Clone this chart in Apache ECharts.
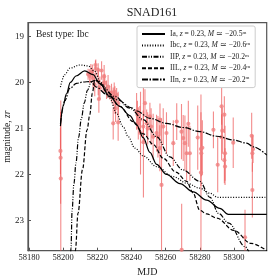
<!DOCTYPE html>
<html><head><meta charset="utf-8">
<script src="https://cdn.jsdelivr.net/npm/echarts@6/dist/echarts.min.js"></script>
<style>html,body{margin:0;padding:0;background:#fff}#c{width:280px;height:280px}</style>
</head><body><div id="c"></div>
<script>
// ---- data ----
const xTicks = [58180, 58200, 58220, 58240, 58260, 58280, 58300];
const yTicks = [19, 20, 21, 22, 23];

const iaMjd  = [58198.4,58199.9,58201.9,58204.2,58207.5,58212.6,58217.5,58221.4,58227.3,58233.2,58239.0,58243.0,58246.9,58250.8,58254.7,58260.5,58268.4,58276.2,58284.0,58291.8,58296.7,58319.2];
const iaMag  = [20.95,20.52,20.25,20.0,19.86,19.75,19.83,20.02,20.31,20.52,20.72,20.92,21.2,21.52,21.78,22.0,22.2,22.38,22.56,22.74,22.87,22.87];

const ibcMjd = [58198.4,58200.9,58203.9,58209.7,58214.6,58218.5,58222.0,58227.3,58231.2,58235.1,58238.1,58242.0,58247.0,58254.7,58264.5,58272.3,58280.0,58286.0,58290.5,58319.2];
const ibcMag = [20.1,19.83,19.69,19.62,19.64,19.76,20.0,20.34,20.67,20.96,21.18,21.43,21.6,21.83,22.05,22.19,22.3,22.41,22.5,22.5];

const iipMjd = [58204.0,58204.6,58205.2,58206.3,58207.5,58209.0,58210.7,58212.3,58214.2,58216.5,58219.0,58222.0,58230.0,58239.0,58247.0,58254.7,58262.5,58270.0,58280.0,58286.0,58291.0,58297.0,58306.5,58310.0];
const iipMag = [24.2,23.6,22.8,22.2,21.75,21.2,20.78,20.45,20.17,19.98,19.95,20.05,20.3,20.56,20.81,21.18,21.62,21.9,22.15,22.5,22.85,23.06,23.57,23.8];

const iilMjd = [58206.8,58207.2,58208.7,58211.3,58214.0,58215.6,58217.1,58218.5,58221.0,58225.4,58233.2,58241.0,58247.0,58252.8,58258.6,58266.0,58272.3,58276.0,58280.0,58284.0,58290.0,58300.0,58310.0,58319.2];
const iilMag = [24.2,23.64,22.84,21.9,21.03,20.7,20.23,19.95,19.98,20.2,20.52,20.85,21.12,21.35,21.65,21.95,22.15,22.4,22.78,22.86,22.95,23.22,23.5,23.66];

const iinMjd = [58198.4,58200.9,58203.9,58207.8,58211.7,58216.0,58219.5,58225.0,58232.0,58240.0,58243.0,58250.8,58260.5,58270.3,58280.1,58289.9,58299.6,58307.5,58311.4,58319.2];
const iinMag = [20.9,20.4,20.13,20.02,19.99,19.98,20.1,20.25,20.38,20.55,20.62,20.78,20.89,20.98,21.07,21.17,21.25,21.32,21.4,21.58];

const obsMjd = [58198.4,58198.5,58198.6,
 58214.6,58215.5,58216.2,58217.1,58217.5,58218.5,58218.9,58219.1,58220.5,58220.5,58220.9,58221.5,58222.5,58223.4,58224.0,58224.4,58225.4,58226.3,58227.3,58228.3,58229.3,58229.9,58230.3,58230.7,58231.3,58232.2,58229.3,58232.2,
 58243.0,58243.5,58244.0,58244.9,58245.3,58246.9,58247.0,58247.9,58248.9,58249.5,58250.8,58251.5,58252.7,58254.7,58255.5,58256.6,58256.7,58257.6,58258.6,58260.5,58264.5,58266.5,58269.3,58269.4,58270.3,58271.3,58272.3,58273.3,58274.2,
 58278.8,58280.7,58281.5,58280.9,58280.7,58288.0,58290.5,58292.8,58294.4,58293.2,58292.8,58294.8,58294.4,58294.8,58299.6,58306.5,58310.4,58310.8,58311.2,58310.8];
const obsMag = [21.49,21.64,22.09,
 19.82,19.86,19.80,19.76,19.91,20.05,19.62,19.70,19.73,19.98,20.36,20.12,19.74,20.02,19.87,20.01,20.16,20.09,20.22,20.23,20.31,20.20,20.38,20.56,20.27,20.45,20.89,20.87,
 20.63,20.70,20.89,20.81,21.10,20.96,21.30,20.45,20.89,21.0,20.74,20.96,21.18,21.10,21.18,21.43,20.81,22.23,20.96,21.10,21.32,20.85,21.07,23.64,21.21,21.32,21.54,20.9,21.54,
 21.20,21.45,21.42,21.54,21.96,21.03,21.79,20.52,20.70,21.05,21.19,21.54,21.69,21.83,21.31,23.37,21.16,21.54,21.45,22.34];
const obsErr = [0.5,1.0,1.7,
 0.12,0.15,0.2,0.15,0.2,0.25,0.1,0.2,0.15,0.3,0.3,0.25,0.2,0.2,0.25,0.2,0.2,0.25,0.15,0.2,0.2,0.2,0.3,0.3,0.15,0.25,0.35,0.4,
 0.4,0.3,0.35,0.3,0.9,0.35,1.2,0.3,0.3,0.35,0.3,0.4,0.5,0.4,0.45,0.5,0.35,1.45,0.4,0.45,0.5,0.4,0.6,1.0,0.5,0.6,0.6,0.5,0.6,
 0.7,0.8,0.6,0.5,1.7,0.4,0.6,0.4,0.4,0.5,0.5,0.6,0.5,0.4,0.55,0.6,0.5,0.4,0.3,0.6];

const labels = {
  ia:  'Ia, {i|z} = 0.23, {i|M} \u2243 \u221220.5{s|m}',
  ibc: 'Ibc, {i|z} = 0.23, {i|M} \u2243 \u221220.6{s|m}',
  iip: 'IIP, {i|z} = 0.23, {i|M} \u2243 \u221220.2{s|m}',
  iil: 'IIL, {i|z} = 0.23, {i|M} \u2243 \u221220.4{s|m}',
  iin: 'IIn, {i|z} = 0.23, {i|M} \u2243 \u221220.2{s|m}'
};
// ---- chart ----
const FONT = 'Liberation Serif';
function pairs(a, b) { return a.map((v, i) => [v, b[i]]); }
const obs = obsMjd.map((m, i) => [m, obsMag[i], obsErr[i]]);

function lineSeries(name, mj, mg, type) {
  return {
    name: name, type: 'line', data: pairs(mj, mg), showSymbol: false, symbol: 'none',
    smooth: 0.35, smoothMonotone: 'x', clip: true, z: 5,
    lineStyle: { color: '#000', width: 1.2, type: type }, itemStyle: { color: '#000' },
    emphasis: { disabled: true }, animation: false
  };
}

const chart = echarts.init(document.getElementById('c'), null, { renderer: 'canvas' });
chart.setOption({
  animation: false,
  backgroundColor: '#fff',
  title: { text: 'SNAD161', left: 147, textAlign: 'center', top: 2,
    textStyle: { fontFamily: FONT, fontSize: 12, fontWeight: 'normal', color: '#222' } },
  grid: { left: 28, right: 13.3, top: 22.7, bottom: 29.3, show: true, borderColor: '#555', borderWidth: 1.2,
    containLabel: false, outerBoundsMode: 'none' },
  xAxis: {
    type: 'value', min: 58179.4, max: 58319.2,
    name: 'MJD', nameLocation: 'middle', nameGap: 17, nameMoveOverlap: false,
    nameTextStyle: { fontFamily: FONT, fontSize: 10, color: '#222' },
    axisLine: { show: true, lineStyle: { color: '#555', width: 1.2 } },
    axisTick: { show: true, inside: true, length: 3, customValues: xTicks, lineStyle: { color: '#555' } },
    axisLabel: { customValues: xTicks, formatter: v => String(v), fontFamily: FONT, fontSize: 8.5, color: '#222', margin: 3 },
    splitLine: { show: false }
  },
  yAxis: {
    type: 'value', min: 18.7, max: 23.66, inverse: true,
    name: 'magnitude, {i|zr}', nameLocation: 'middle', nameGap: 16, nameRotate: 90, nameMoveOverlap: false,
    nameTextStyle: { fontFamily: FONT, fontSize: 9.5, color: '#222', rich: { i: { fontFamily: FONT, fontStyle: 'italic', fontSize: 9.5, color: '#222' } } },
    axisLine: { show: true, lineStyle: { color: '#555', width: 1.2 } },
    axisTick: { show: true, inside: true, length: 3, customValues: yTicks, lineStyle: { color: '#555' } },
    axisLabel: { customValues: yTicks, formatter: v => String(v), fontFamily: FONT, fontSize: 9, color: '#222', margin: 4 },
    splitLine: { show: false }
  },
  legend: {
    orient: 'vertical', left: 137, top: 26, itemWidth: 23, itemHeight: 8, itemGap: 3.4,
    padding: [4, 5, 4, 4], borderColor: '#ccc', borderWidth: 1, borderRadius: 2, backgroundColor: 'rgba(255,255,255,0.85)',
    selectedMode: false,
    itemStyle: { opacity: 0 },
    data: ['ia', 'ibc', 'iip', 'iil', 'iin'],
    formatter: n => labels[n],
    textStyle: { fontFamily: FONT, fontSize: 7.6, color: '#222',
      rich: { i: { fontFamily: FONT, fontStyle: 'italic', fontSize: 7.6, color: '#222' },
              s: { fontFamily: FONT, fontSize: 5, color: '#222', verticalAlign: 'top', lineHeight: 6 } } }
  },
  graphic: [{ type: 'text', left: 36, top: 29, z: 10, style: { text: 'Best type: Ibc', font: '9.5px "Liberation Serif"', fill: '#222' } }],
  series: [
    {
      type: 'custom', name: 'err', clip: true, z: 2, data: obs, animation: false,
      renderItem: function (params, api) {
        const x = api.value(0), m = api.value(1), e = api.value(2);
        const p1 = api.coord([x, m - e]), p2 = api.coord([x, m + e]);
        return { type: 'line', shape: { x1: p1[0], y1: p1[1], x2: p2[0], y2: p2[1] },
          style: { stroke: 'rgba(238,90,90,0.7)', lineWidth: 1.1 } };
      },
      encode: { x: 0, y: 1 }
    },
    {
      type: 'scatter', name: 'obs', data: obs.map(o => [o[0], o[1]]), symbol: 'circle', symbolSize: 4.2,
      itemStyle: { color: '#f08080' }, clip: true, z: 3, animation: false
    },
    lineSeries('ia', iaMjd, iaMag, 'solid'),
    lineSeries('ibc', ibcMjd, ibcMag, [1, 1.6]),
    lineSeries('iip', iipMjd, iipMag, [5, 1.5, 1, 1.5, 1, 1.5]),
    lineSeries('iil', iilMjd, iilMag, [4, 2]),
    lineSeries('iin', iinMjd, iinMag, [6, 1.5, 1.5, 1.5])
  ]
});
</script></body></html>
